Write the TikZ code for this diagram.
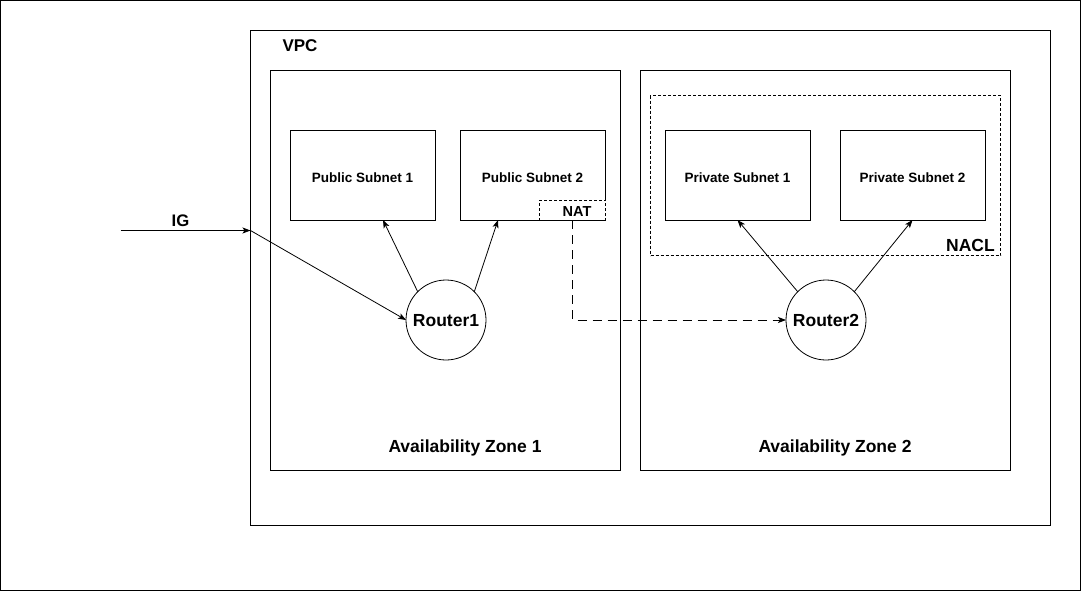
\documentclass[tikz,border=0pt]{standalone}
\usepackage{fontspec}
\setmainfont{Liberation Sans}
\usetikzlibrary{arrows.meta,calc}
\newcommand{\lowered}[2]{\raisebox{-#1}[\height][\depth]{#2}}
\begin{document}
\begin{tikzpicture}[x=1pt,y=-1pt,
  every node/.style={inner sep=0pt,outer sep=0pt,font=\bfseries},
  frame/.style={draw,line width=1pt,rectangle},
  subnet/.style={draw,line width=1pt,rectangle,minimum width=145pt,minimum height=90pt,font=\bfseries\fontsize{13.5}{15}\selectfont},
  dotbox/.style={draw,line width=1pt,rectangle,dash pattern=on 3pt off 2pt},
  router/.style={draw,line width=0.8pt,circle,minimum size=80pt,font=\bfseries\fontsize{17.5}{19}\selectfont},
  biglabel/.style={font=\bfseries\fontsize{17.5}{19}\selectfont},
  conn/.style={line width=0.8pt,-{Stealth[length=8pt,width=6pt,inset=2pt]}},
  dconn/.style={line width=0.8pt,dash pattern=on 9pt off 6pt,-{Stealth[length=8pt,width=6pt,inset=2pt]}}
]
\useasboundingbox (0,0) rectangle (1081,592);
\draw[line width=1pt] (0.5,0.5) rectangle (1080,590);

% containers
\node[frame,minimum width=800pt,minimum height=495pt] (vpc) at (650.5,278) {};
\node[biglabel,font=\bfseries\fontsize{17}{19}\selectfont] (vpclab) at (300,45.5) {VPC};
\node[frame,minimum width=350pt,minimum height=400pt] (az1) at (445.5,270.5) {};
\node[frame,minimum width=370pt,minimum height=400pt] (az2) at (825.5,270.5) {};
\node[biglabel] (az1lab) at (465,447.5) {Availability Zone 1};
\node[biglabel] (az2lab) at (835,447.5) {Availability Zone 2};
\node[dotbox,minimum width=350pt,minimum height=160pt] (nacl) at (825.5,175.5) {};
\node[biglabel] (nacllab) at (970.5,245.5) {NACL};

% subnets
\node[subnet] (ps1) at (362.5,175) {\lowered{2.5pt}{Public Subnet 1}};
\node[subnet] (ps2) at (532.5,175) {\lowered{2.5pt}{Public Subnet 2}};
\node[subnet] (pv1) at (737.5,175) {\lowered{2.5pt}{Private Subnet 1}};
\node[subnet] (pv2) at (912.5,175) {\lowered{2.5pt}{Private Subnet 2}};
\node[dotbox,fill=white,minimum width=66pt,minimum height=20pt,font=\bfseries\fontsize{14.5}{16}\selectfont] (nat) at (572.5,210) {\hspace{9pt}\lowered{1.5pt}{NAT}};

% routers
\node[router] (r1) at (446,320) {\lowered{0.8pt}{Router1}};
\node[router] (r2) at (826,320) {\lowered{0.8pt}{Router2}};

% internet gateway
\coordinate (igstart) at (120.5,230.5);
\coordinate (igin) at (250.5,230.5);
\node[biglabel,font=\bfseries\fontsize{16.7}{18}\selectfont] (iglab) at (180.5,221) {IG};
\draw[conn] (igstart) -- (igin);
\draw[conn] (igin) -- (r1.west);

% router connections
\draw[conn] (r1.135) -- ([xshift=20.5pt]ps1.south);
\draw[conn] (r1.45) -- ([xshift=-34.5pt]ps2.south);
\draw[conn] (r2.135) -- (pv1.south);
\draw[conn] (r2.45) -- (pv2.south);
\draw[dconn] (nat.south) |- (r2.west);
\end{tikzpicture}
\end{document}
